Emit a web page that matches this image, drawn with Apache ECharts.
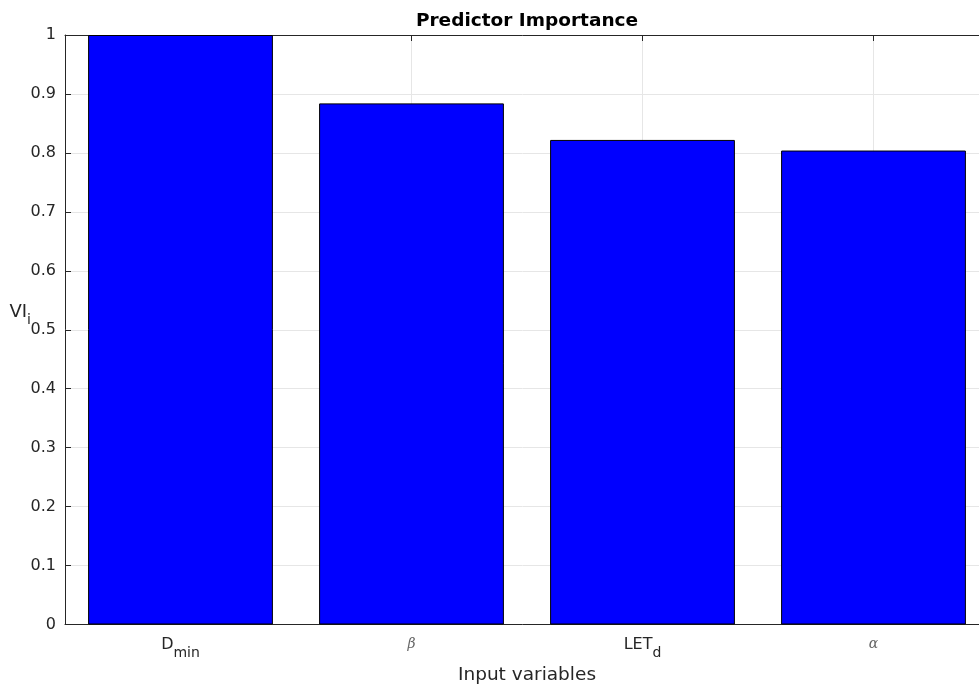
<!DOCTYPE html>
<html>
<head>
<meta charset="utf-8">
<title>Predictor Importance</title>
<script src="https://cdn.jsdelivr.net/npm/echarts@6/dist/echarts.min.js"></script>
<style>
  html, body { margin: 0; padding: 0; background: #fff; overflow: hidden; }
  #chart { width: 979px; height: 684px; }
</style>
</head>
<body>
<div id="chart"></div>
<script>
// Predictor importance per input variable
const categories = ['D_min', 'beta', 'LET_d', 'alpha'];
const importance = [1.0, 0.884, 0.822, 0.804];
const yTicks = [0, 0.1, 0.2, 0.3, 0.4, 0.5, 0.6, 0.7, 0.8, 0.9, 1];

// Rich-text forms of the category names (subscripts, Greek letters)
const labelText = {
  D_min: '{b|D}{s|min}',
  beta: '{g|\u03B2}',
  LET_d: '{b|LET}{s|d}',
  alpha: '{g|\u03B1}'
};

const axisColor = '#262626';
const gridColor = '#e6e6e6';
const font = 'DejaVu Sans';

const chart = echarts.init(document.getElementById('chart'));
chart.setOption({
  animation: false,
  backgroundColor: '#ffffff',
  title: {
    text: 'Predictor Importance',
    left: 522,
    top: 7,
    textAlign: 'center',
    textStyle: { fontFamily: font, fontWeight: 'bold', fontSize: 18.5, color: '#000' }
  },
  // the plot box runs a little past the right edge of the page
  grid: { left: 65, right: -10, top: 35, bottom: 59.5, containLabel: false, outerBoundsMode: 'none' },
  xAxis: [
    {
      type: 'category',
      data: categories,
      boundaryGap: true,
      position: 'bottom',
      name: 'Input variables',
      nameLocation: 'middle',
      nameGap: 41,
      nameTextStyle: { fontFamily: font, fontSize: 18.5, color: axisColor },
      axisLine: { show: true, lineStyle: { color: axisColor, width: 1 } },
      axisTick: { show: true, inside: true, length: 6, alignWithLabel: true, lineStyle: { color: axisColor } },
      splitLine: { show: true, alignWithLabel: true, lineStyle: { color: gridColor, width: 1 } },
      axisLabel: {
        margin: 12,
        formatter: v => labelText[v],
        rich: {
          b: { fontFamily: font, fontSize: 16, color: axisColor, lineHeight: 18, verticalAlign: 'top' },
          s: { fontFamily: font, fontSize: 14, color: axisColor, lineHeight: 18, padding: [10, 0, 0, 0], verticalAlign: 'top' },
          g: { fontFamily: 'DejaVu Serif', fontStyle: 'italic', fontSize: 14, color: '#666', lineHeight: 18, padding: [1, 0, 0, 0], verticalAlign: 'top' }
        }
      }
    },
    {
      type: 'category',
      data: categories,
      boundaryGap: true,
      position: 'top',
      axisLine: { show: true, lineStyle: { color: axisColor, width: 1 } },
      axisTick: { show: true, inside: true, length: 6, alignWithLabel: true, lineStyle: { color: axisColor } },
      axisLabel: { show: false },
      splitLine: { show: false }
    }
  ],
  yAxis: {
    type: 'value',
    min: 0,
    max: 1,
    interval: 0.1,
    name: '{b|VI}{s|i}',
    nameLocation: 'middle',
    nameRotate: 0,
    nameGap: 34,
    nameMoveOverlap: false,
    nameTextStyle: {
      padding: [0, 0, 32, 0],
      rich: {
        b: { fontFamily: font, fontSize: 18, color: axisColor, lineHeight: 20, verticalAlign: 'top' },
        s: { fontFamily: font, fontSize: 14, color: axisColor, lineHeight: 20, padding: [10, 0, 0, 0], verticalAlign: 'top' }
      }
    },
    axisLine: { show: true, lineStyle: { color: axisColor, width: 1 } },
    axisTick: { show: true, inside: true, length: 6, lineStyle: { color: axisColor } },
    splitLine: { show: true, lineStyle: { color: gridColor, width: 1 } },
    axisLabel: {
      margin: 9,
      fontFamily: font,
      fontSize: 16,
      color: axisColor,
      formatter: v => {
        const t = yTicks.find(k => Math.abs(k - v) < 1e-9);
        return t === undefined ? '' : String(t);
      }
    }
  },
  series: [
    {
      type: 'bar',
      xAxisIndex: 0,
      data: importance,
      barWidth: '80%',
      itemStyle: { color: '#0000ff', borderColor: '#000000', borderWidth: 1 }
    }
  ]
});
</script>
</body>
</html>
